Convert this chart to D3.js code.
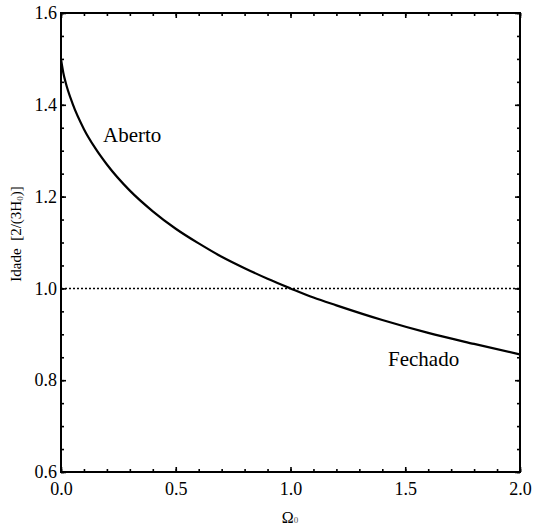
<!DOCTYPE html>
<html>
<head>
<meta charset="utf-8">
<script src="https://cdn.jsdelivr.net/npm/d3@7"></script>
<style>
  body { margin: 0; background: #fff; }
</style>
</head>
<body>
<div id="container"></div>
<script>
// values
const omega = [0, 0.005, 0.01, 0.02, 0.05, 0.1, 0.15, 0.2, 0.3, 0.4, 0.5, 0.6, 0.7, 0.8, 0.9, 1.0, 1.1, 1.2, 1.4, 1.6, 1.8, 2.0];
const idade = [1.5, 1.484, 1.470, 1.449, 1.403, 1.347, 1.305, 1.270, 1.213, 1.168, 1.130, 1.098, 1.069, 1.044, 1.021, 1.0, 0.980, 0.963, 0.931, 0.903, 0.879, 0.856];
const xTicks = [0, 0.5, 1.0, 1.5, 2.0];
const yTicks = [0.6, 0.8, 1.0, 1.2, 1.4, 1.6];
const refLine = 1.0;

const FONT = "Liberation Serif";
const width = 534;
const height = 526;
const margin = { left: 61, right: 14, top: 13, bottom: 54 };

const svg = d3.select("#container")
  .append("svg")
  .attr("width", width)
  .attr("height", height);

const x = d3.scaleLinear().domain([0, 2]).range([margin.left, width - margin.right]);
const y = d3.scaleLinear().domain([0.6, 1.6]).range([height - margin.bottom, margin.top]);

// minor ticks
const xMinor = d3.range(0, 2.0001, 0.1).map(v => +v.toFixed(2));
const yMinor = d3.range(0.6, 1.6001, 0.05).map(v => +v.toFixed(2));

function axisTicks(g, axis) {
  g.call(axis);
  g.select(".domain").remove();
  g.attr("font-family", FONT);
  g.selectAll("line").attr("stroke", "#000").attr("stroke-width", 1.6);
}

// bottom and top
svg.append("g").attr("transform", `translate(0,${y(0.6)})`)
  .call(g => axisTicks(g, d3.axisBottom(x).tickValues(xMinor).tickSizeInner(-3).tickSizeOuter(0).tickFormat("")));
svg.append("g").attr("transform", `translate(0,${y(0.6)})`)
  .call(g => axisTicks(g, d3.axisBottom(x).tickValues(xTicks).tickSizeInner(-5).tickSizeOuter(0).tickFormat(d3.format(".1f")).tickPadding(10)));
svg.append("g").attr("transform", `translate(0,${y(1.6)})`)
  .call(g => axisTicks(g, d3.axisTop(x).tickValues(xMinor).tickSizeInner(-3).tickSizeOuter(0).tickFormat("")));
svg.append("g").attr("transform", `translate(0,${y(1.6)})`)
  .call(g => axisTicks(g, d3.axisTop(x).tickValues(xTicks).tickSizeInner(-5).tickSizeOuter(0).tickFormat("")));

// left and right
svg.append("g").attr("transform", `translate(${x(0)},0)`)
  .call(g => axisTicks(g, d3.axisLeft(y).tickValues(yMinor).tickSizeInner(-3).tickSizeOuter(0).tickFormat("")));
svg.append("g").attr("transform", `translate(${x(0)},0)`)
  .call(g => axisTicks(g, d3.axisLeft(y).tickValues(yTicks).tickSizeInner(-5).tickSizeOuter(0).tickFormat(d3.format(".1f")).tickPadding(4)));
svg.append("g").attr("transform", `translate(${x(2)},0)`)
  .call(g => axisTicks(g, d3.axisRight(y).tickValues(yMinor).tickSizeInner(-3).tickSizeOuter(0).tickFormat("")));
svg.append("g").attr("transform", `translate(${x(2)},0)`)
  .call(g => axisTicks(g, d3.axisRight(y).tickValues(yTicks).tickSizeInner(-5).tickSizeOuter(0).tickFormat("")));

svg.selectAll(".tick text")
  .attr("font-family", FONT)
  .attr("font-size", 18)
  .attr("fill", "#000");

// dotted reference line
svg.append("line")
  .attr("x1", x(0)).attr("x2", x(2))
  .attr("y1", y(refLine)).attr("y2", y(refLine))
  .attr("stroke", "#000")
  .attr("stroke-width", 1.5)
  .attr("stroke-dasharray", "2,2");

// curve
svg.append("path")
  .datum(omega.map((o, i) => [o, idade[i]]))
  .attr("fill", "none")
  .attr("stroke", "#000")
  .attr("stroke-width", 2.2)
  .attr("d", d3.line().x(d => x(d[0])).y(d => y(d[1])).curve(d3.curveMonotoneX));

// frame
svg.append("rect")
  .attr("x", x(0)).attr("y", y(1.6))
  .attr("width", x(2) - x(0)).attr("height", y(0.6) - y(1.6))
  .attr("fill", "none")
  .attr("stroke", "#000")
  .attr("stroke-width", 2);

// annotations
svg.append("text").attr("x", 103).attr("y", 142).attr("font-family", FONT).attr("font-size", 21).text("Aberto");
svg.append("text").attr("x", 388).attr("y", 366).attr("font-family", FONT).attr("font-size", 21).text("Fechado");

// x label
const xl = svg.append("text").attr("x", 290).attr("y", 523).attr("text-anchor", "middle")
  .attr("font-family", FONT).attr("font-size", 16);
xl.append("tspan").text("Ω");
xl.append("tspan").attr("font-size", 9).attr("fill", "#555").text("0");

// y label
const yl = svg.append("text")
  .attr("transform", "translate(21,234) rotate(-90)")
  .attr("text-anchor", "middle")
  .attr("font-family", FONT)
  .attr("font-size", 15)
  .attr("xml:space", "preserve");
yl.append("tspan").text("Idade  [2/(3H");
yl.append("tspan").attr("font-size", 9).attr("fill", "#555").attr("dy", 2).text("0");
yl.append("tspan").attr("dy", -2).text(")]");
</script>
</body>
</html>
